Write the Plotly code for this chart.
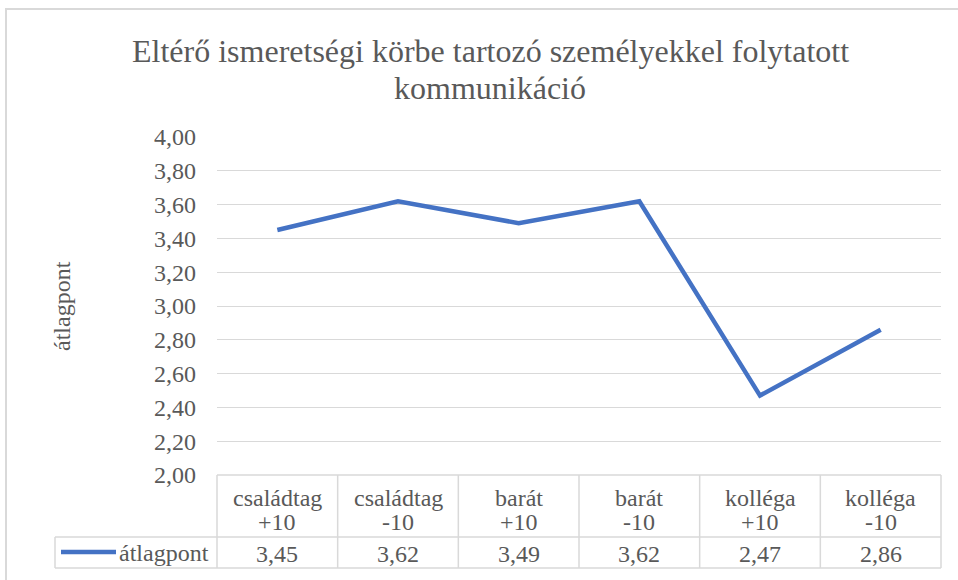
import plotly.graph_objects as go

# Data
title_lines = ["Eltérő ismeretségi körbe tartozó személyekkel folytatott", "kommunikáció"]
categories = [["családtag", "+10"], ["családtag", "-10"], ["barát", "+10"],
              ["barát", "-10"], ["kolléga", "+10"], ["kolléga", "-10"]]
values = [3.45, 3.62, 3.49, 3.62, 2.47, 2.86]
series_name = "átlagpont"
y_ticks = [2.0, 2.2, 2.4, 2.6, 2.8, 3.0, 3.2, 3.4, 3.6, 3.8, 4.0]

W, H = 958, 580
BLUE = "#4472C4"
GRID = "#D9D9D9"
TXT = "#595959"
FONT = "Liberation Serif"
FS = 24

# pixel layout helpers (paper coords from pixels)
def px(x):
    return x / W

def py(y):
    return 1 - y / H

plot_left, plot_right = 217, 941
plot_top, plot_bottom = 137, 475
row1_bottom, row2_bottom = 537, 568
legend_left = 55

fig = go.Figure()
fig.add_trace(go.Scatter(
    x=list(range(len(categories))), y=values, mode="lines",
    line=dict(color=BLUE, width=4.5), name=series_name, showlegend=False,
    hoverinfo="skip",
))

fig.update_layout(
    width=W, height=H,
    margin=dict(l=0, r=0, t=0, b=0, autoexpand=False),
    paper_bgcolor="white", plot_bgcolor="white",
    separators=", ",
    font=dict(family=FONT, color=TXT),
    xaxis=dict(
        domain=[px(plot_left), px(plot_right)],
        range=[-0.5, len(categories) - 0.5],
        showticklabels=False, showgrid=False, zeroline=False, automargin=False,
    ),
    yaxis=dict(
        domain=[py(plot_bottom), py(plot_top)],
        range=[2, 4], tickvals=y_ticks, tickformat=".2f",
        showgrid=True, gridcolor=GRID, gridwidth=1,
        zeroline=False, showline=False, automargin=False,
        tickfont=dict(size=FS, color=TXT, family=FONT),
        ticklabelstandoff=20,
    ),
)

shapes = []
# outer chart border
shapes.append(dict(type="line", xref="paper", yref="paper", x0=px(5), x1=1, y0=py(9), y1=py(9),
                   line=dict(color=GRID, width=2)))
shapes.append(dict(type="line", xref="paper", yref="paper", x0=px(6), x1=px(6), y0=py(9), y1=0,
                   line=dict(color=GRID, width=2)))
# data table lines
n = len(categories)
col_w = (plot_right - plot_left) / n
shapes.append(dict(type="line", xref="paper", yref="paper", x0=px(plot_left), x1=px(plot_right),
                   y0=py(plot_bottom), y1=py(plot_bottom), line=dict(color=GRID, width=1.5)))
for y in (row1_bottom, row2_bottom):
    shapes.append(dict(type="line", xref="paper", yref="paper", x0=px(legend_left), x1=px(plot_right),
                       y0=py(y), y1=py(y), line=dict(color=GRID, width=1.5)))
for i in range(n + 1):
    x = plot_left + i * col_w
    shapes.append(dict(type="line", xref="paper", yref="paper", x0=px(x), x1=px(x),
                       y0=py(plot_bottom), y1=py(row2_bottom), line=dict(color=GRID, width=1.5)))
shapes.append(dict(type="line", xref="paper", yref="paper", x0=px(legend_left), x1=px(legend_left),
                   y0=py(row1_bottom), y1=py(row2_bottom), line=dict(color=GRID, width=1.5)))
# legend key line
shapes.append(dict(type="line", xref="paper", yref="paper", x0=px(61), x1=px(116),
                   y0=py(552), y1=py(552), line=dict(color=BLUE, width=4.5)))
fig.update_layout(shapes=shapes)

def txt(x, y, s, size=FS, xref="paper", **kw):
    return dict(x=x, xref=xref, y=py(y), yref="paper", text=s, showarrow=False,
                font=dict(size=size, color=TXT, family=FONT),
                xanchor="center", yanchor="middle", **kw)

annotations = []
# title, one annotation per line
annotations.append(txt(px(490), 51, title_lines[0], size=32))
annotations.append(txt(px(490), 88, title_lines[1], size=32))
# y axis title
annotations.append(txt(px(62), 306, series_name, size=FS, textangle=-90))
# data table
for i, (cat, v) in enumerate(zip(categories, values)):
    annotations.append(txt(i, 498, cat[0], xref="x"))
    annotations.append(txt(i, 522, cat[1], xref="x"))
    annotations.append(txt(i, 554, f"{v:.2f}".replace(".", ","), xref="x"))
annotations.append(txt(px(164), 553, series_name))
fig.update_layout(annotations=annotations)

fig.write_html("out.html", config={"displayModeBar": False},
               post_script="document.body.style.margin='0';")
